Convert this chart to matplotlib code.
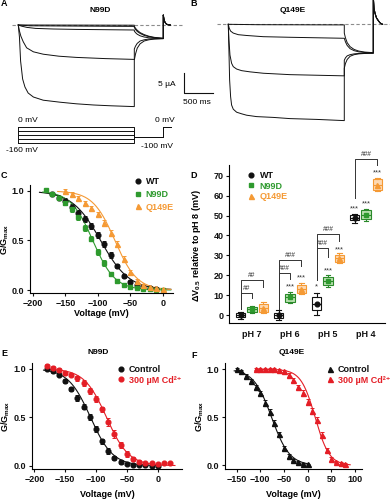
import numpy as np
import matplotlib
matplotlib.use("Agg")
import matplotlib.pyplot as plt
from matplotlib.lines import Line2D

plt.rcParams['font.family'] = ['Liberation Sans', 'DejaVu Sans']
plt.rcParams['mathtext.fontset'] = 'custom'
plt.rcParams['mathtext.rm'] = 'Liberation Sans'
plt.rcParams['mathtext.bf'] = 'Liberation Sans:bold'
plt.rcParams['mathtext.it'] = 'Liberation Sans:italic'
plt.rcParams['axes.linewidth'] = 0.8
plt.rcParams['xtick.major.width'] = 0.8
plt.rcParams['ytick.major.width'] = 0.8
plt.rcParams['xtick.major.size'] = 2.2
plt.rcParams['ytick.major.size'] = 2.2

# ---------------- data ----------------
# Panel A (N99D) current traces: time (ms), current (uA)
a_pulse_t = [[0, 20, 40, 75, 115, 170, 260, 430, 720, 1000, 1300, 1600, 2000],
             [0, 20, 45, 86, 144, 260, 430, 700, 1000, 1500, 2000],
             [0, 60, 150, 300, 600, 1000, 2000],
             [0, 200, 2000],
             [0, 2000]]
a_pulse_i = [[0, -3, -9, -13.5, -15.5, -17, -18, -18.8, -19.3, -19.7, -20, -20.2, -20.4],
             [0, -1.5, -2.8, -4.2, -5.7, -6.7, -7.3, -7.8, -8.1, -8.4, -8.6],
             [0, -0.3, -0.6, -0.85, -1.0, -1.1, -1.25],
             [0, -0.2, -0.35],
             [0, -0.05]]
tail_t = [2000, 2020, 2050, 2100, 2170, 2250, 2350, 2500]
a_tail_i = [[-8.8, -7.3, -5.8, -4.7, -4.0, -3.7, -3.5, -3.4],
            [-6.0, -5.3, -4.6, -4.0, -3.7, -3.5, -3.45, -3.4],
            [-1.5, -1.9, -2.3, -2.7, -3.0, -3.2, -3.3, -3.4],
            [-0.6, -1.1, -1.6, -2.1, -2.6, -2.9, -3.2, -3.35],
            [-0.3, -0.8, -1.3, -1.9, -2.4, -2.8, -3.1, -3.3]]
a_spike_t = [2500, 2510, 2525, 2545, 2570, 2620]
a_spike_i = [2.5, 1.5, 0.8, 0.35, 0.1, 0.0]

# Panel B (Q149E) current traces
b_pulse_t = [[0, 11, 23, 40, 57, 86, 144, 230, 316, 489, 776, 1064, 1524, 2000],
             [0, 11, 29, 57, 86, 144, 230, 374, 604, 1064, 2000],
             [0, 17, 40, 86, 173, 316, 604, 1064, 2000],
             [0, 500, 2000]]
b_pulse_i = [[0, -6.4, -13.9, -18.1, -20.2, -21.25, -22, -22.4, -22.75, -23.1, -23.3, -23.6, -23.8, -24.1],
             [0, -3.9, -7.7, -9.75, -10.6, -11.2, -11.6, -11.9, -12.25, -12.6, -12.9],
             [0, -1.0, -1.7, -2.2, -2.6, -2.8, -3.1, -3.25, -3.5],
             [0, -0.1, -0.15]]
b_tail_i = [[-11.0, -9.8, -8.8, -8.0, -7.6, -7.4, -7.3, -7.25],
            [-9.0, -8.4, -7.9, -7.6, -7.4, -7.3, -7.25, -7.2],
            [-3.5, -4.4, -5.3, -6.1, -6.6, -6.9, -7.05, -7.15],
            [-2.2, -3.4, -4.6, -5.6, -6.3, -6.7, -6.95, -7.1]]
b_spike_t = [2500, 2512, 2530, 2555, 2587, 2620, 2660]
b_spike_i = [7.0, 4.0, 2.75, 1.6, 0.9, 0.3, 0.0]

# voltage protocol
prot_steps = [0, -40, -80, -120, -160]   # mV
prot_tail_v = -100
prot_end_v = 0
prot_times = [0, 2000, 2500, 2630]       # ms
scale_i = 5      # uA
scale_t = 500    # ms

# Panel C: G/Gmax
c_wt_v = [-170, -160, -150, -140, -130, -120, -110, -100, -90, -80, -70, -60, -50, -40, -30, -20, -10]
c_wt_g = [0.97, 0.93, 0.90, 0.84, 0.78, 0.72, 0.65, 0.56, 0.46, 0.35, 0.24, 0.14, 0.08, 0.05, 0.03, 0.02, 0.01]
c_wt_e = [0.02, 0.02, 0.03, 0.03, 0.03, 0.03, 0.03, 0.03, 0.03, 0.03, 0.02, 0.02, 0.02, 0.01, 0.01, 0.01, 0.01]
c_n99d_v = [-180, -170, -160, -150, -140, -130, -120, -110, -100, -90, -80, -70, -60, -50, -40, -30, -20, -10, 0]
c_n99d_g = [1.01, 0.97, 0.93, 0.88, 0.82, 0.74, 0.63, 0.52, 0.38, 0.27, 0.16, 0.09, 0.05, 0.03, 0.02, 0.01, 0.01, 0.00, 0.00]
c_n99d_e = [0.01, 0.02, 0.02, 0.02, 0.03, 0.03, 0.03, 0.03, 0.03, 0.03, 0.02, 0.02, 0.01, 0.01, 0.01, 0.01, 0.01, 0.01, 0.01]
c_q149e_v = [-150, -140, -130, -120, -110, -100, -90, -80, -70, -60, -50, -40, -30, -20, -10, 0]
c_q149e_g = [1.00, 0.97, 0.93, 0.88, 0.83, 0.77, 0.68, 0.58, 0.46, 0.31, 0.18, 0.09, 0.05, 0.03, 0.02, 0.01]
c_q149e_e = [0.02, 0.02, 0.02, 0.02, 0.02, 0.02, 0.03, 0.03, 0.03, 0.03, 0.02, 0.02, 0.01, 0.01, 0.01, 0.01]
c_fit = {'WT': (-96, 22, -190, 12), 'N99D': (-108, 17, -185, 12), 'Q149E': (-74, 17, -162, 12)}

# Panel D: delta V0.5 box plots
ph_labels = ['pH 7', 'pH 6', 'pH 5', 'pH 4']
series_names = ['WT', 'N99D', 'Q149E']
d_mean = {'WT': [0.0, -0.2, 5.6, 49.0], 'N99D': [2.8, 9.0, 17.0, 50.2], 'Q149E': [3.4, 13.3, 28.5, 65.5]}
d_q1 = {'WT': [-1.0, -1.5, 2.5, 47.7], 'N99D': [1.3, 6.8, 15.1, 48.3], 'Q149E': [1.5, 11.2, 26.6, 63.0]}
d_q3 = {'WT': [0.8, 0.9, 9.0, 50.2], 'N99D': [4.2, 10.8, 19.0, 52.6], 'Q149E': [5.5, 15.0, 30.4, 68.2]}
d_lo = {'WT': [-2.2, -2.3, 0.2, 46.4], 'N99D': [1.0, 6.2, 14.2, 47.2], 'Q149E': [1.0, 10.5, 26.0, 62.2]}
d_hi = {'WT': [1.6, 2.5, 11.0, 51.0], 'N99D': [4.6, 11.6, 20.1, 53.4], 'Q149E': [6.5, 15.9, 31.0, 69.0]}
# significance stars: (group, series index, y, text)
d_stars = [(1, 1, 15.0, '***'), (1, 2, 19.5, '***'), (2, 0, 15.0, '*'), (2, 1, 23.0, '***'),
           (2, 2, 33.8, '***'), (3, 0, 54.4, '***'), (3, 1, 57.0, '***'), (3, 2, 72.4, '***')]
# brackets: (group, left series, right series, bar y, left end y, right end y, label)
d_brackets = [(0, 0, 1, 11.0, 2.8, 8.8, '##'), (0, 0, 2, 17.6, 2.8, 14.0, '##'),
              (1, 0, 1, 21.0, 3.0, 18.2, '###'), (1, 0, 2, 27.6, 3.0, 24.5, '###'),
              (2, 0, 1, 33.5, 17.5, 29.3, '###'), (2, 0, 2, 40.5, 17.5, 37.2, '###'),
              (3, 0, 2, 78.2, 58.6, 75.4, '###')]

# Panel E: N99D control vs Cd
e_ctl_v = [-180, -170, -160, -150, -140, -130, -120, -110, -100, -90, -80, -70, -60, -50, -40, -30, -20, -10, 0]
e_ctl_g = [1.00, 0.98, 0.94, 0.87, 0.79, 0.70, 0.61, 0.50, 0.38, 0.25, 0.15, 0.08, 0.04, 0.02, 0.01, 0.01, 0.01, 0.00, 0.00]
e_ctl_e = [0.01, 0.02, 0.02, 0.02, 0.02, 0.03, 0.03, 0.03, 0.03, 0.03, 0.03, 0.02, 0.02, 0.01, 0.01, 0.01, 0.01, 0.01, 0.01]
e_cd_v = [-180, -170, -160, -150, -140, -130, -120, -110, -100, -90, -80, -70, -60, -50, -40, -30, -20, -10, 0, 10, 20]
e_cd_g = [1.03, 1.01, 0.99, 0.96, 0.94, 0.90, 0.85, 0.77, 0.69, 0.58, 0.45, 0.33, 0.21, 0.12, 0.07, 0.04, 0.03, 0.03, 0.02, 0.03, 0.03]
e_cd_e = [0.02, 0.02, 0.02, 0.02, 0.02, 0.03, 0.03, 0.03, 0.03, 0.03, 0.04, 0.04, 0.03, 0.03, 0.02, 0.02, 0.01, 0.01, 0.01, 0.01, 0.01]
e_fit = {'Control': (-109, 18, -185, 0), 'Cd': (-83, 18, -180, 28)}

# Panel F: Q149E control vs Cd
f_ctl_v = [-150, -140, -130, -120, -110, -100, -90, -80, -70, -60, -50, -40, -30, -20, -10, 0]
f_ctl_g = [1.00, 0.98, 0.93, 0.88, 0.82, 0.75, 0.65, 0.56, 0.44, 0.33, 0.18, 0.10, 0.06, 0.04, 0.02, 0.01]
f_ctl_e = [0.01, 0.01, 0.02, 0.02, 0.02, 0.02, 0.03, 0.03, 0.03, 0.02, 0.02, 0.02, 0.01, 0.01, 0.01, 0.01]
f_cd_v = [-110, -100, -90, -80, -70, -60, -50, -40, -30, -20, -10, 0, 10, 20, 30, 40, 50, 60, 70, 80]
f_cd_g = [1.00, 1.00, 1.00, 1.00, 1.00, 0.99, 0.98, 0.94, 0.89, 0.82, 0.75, 0.66, 0.57, 0.47, 0.32, 0.16, 0.07, 0.04, 0.03, 0.02]
f_cd_e = [0.01, 0.01, 0.01, 0.01, 0.01, 0.01, 0.01, 0.02, 0.02, 0.02, 0.03, 0.03, 0.03, 0.03, 0.03, 0.02, 0.02, 0.01, 0.01, 0.01]
f_fit = {'Control': (-76, 19, -155, 4), 'Cd': (16, 15, -110, 90)}

# ---------------- style ----------------
BLACK = '#111111'
GREEN = '#2e9a2e'
ORANGE = '#f59a35'
RED = '#e41e26'
GREY = '#8c8c8c'
W, H = 390, 500
FS = 6.5

fig = plt.figure(figsize=(3.9, 5.0), dpi=100)


def px_axes(x0, y0, x1, y1):
    return fig.add_axes([x0 / W, 1 - y1 / H, (x1 - x0) / W, (y1 - y0) / H])


def ftext(x, y, s, **kw):
    kw.setdefault('ha', 'center')
    kw.setdefault('va', 'center')
    fig.text(x / W, 1 - y / H, s, **kw)


def boltz(v, vh, k):
    return 1.0 / (1.0 + np.exp((v - vh) / k))


# ---------------- Panel A ----------------
axA = px_axes(0, 0, 190, 125)
axA.set_xlim(-315, 2960)
axA.set_ylim(-25, 6.25)
axA.axis('off')
axA.plot([-110, 2840], [0, 0], color=GREY, lw=0.8, dashes=(3, 2))
for t, i, ti in zip(a_pulse_t, a_pulse_i, a_tail_i):
    tt = t + tail_t + a_spike_t
    ii = i + ti + a_spike_i
    axA.plot(tt, ii, color=BLACK, lw=0.7)
# scale bar
sb_t0 = 2862
sb_i0 = -11.9
axA.plot([sb_t0, sb_t0, sb_t0 + scale_t], [sb_i0, sb_i0 - scale_i, sb_i0 - scale_i],
         color=BLACK, lw=0.8, clip_on=False)
ftext(176, 84, f'{scale_i} µA', ha='right', fontsize=6)
ftext(183, 103, f'{scale_t} ms', ha='left', fontsize=6)

# protocol
axP = px_axes(0, 118, 190, 160)
axP.set_xlim(-315, 2960)
axP.set_ylim(-330, 90)
axP.axis('off')
for v in prot_steps:
    axP.plot([prot_times[0], prot_times[1], prot_times[1], prot_times[2], prot_times[2], prot_times[3]],
             [v, v, prot_tail_v, prot_tail_v, prot_end_v, prot_end_v], color=BLACK, lw=0.7)
axP.plot([prot_times[0], prot_times[0]], [max(prot_steps), min(prot_steps)], color=BLACK, lw=0.7)
ftext(18, 120, '0 mV', ha='left', fontsize=6)
ftext(6, 151, '-160 mV', ha='left', fontsize=6)
ftext(155, 120, '0 mV', ha='left', fontsize=6)
ftext(141, 146, '-100 mV', ha='left', fontsize=6)

# ---------------- Panel B ----------------
axB = px_axes(190, 0, 390, 125)
axB.set_xlim(-660, 2788)
axB.set_ylim(-25.2, 6.08)
axB.axis('off')
axB.plot([-195, 2788], [0, 0], color=GREY, lw=0.8, dashes=(3, 2))
for t, i, ti in zip(b_pulse_t, b_pulse_i, b_tail_i):
    tt = t + tail_t + b_spike_t
    ii = i + ti + b_spike_i
    axB.plot(tt, ii, color=BLACK, lw=0.7)

ftext(100, 11, 'N99D', fontsize=6, fontweight='bold')
ftext(293, 11, 'Q149E', fontsize=6, fontweight='bold')


def style_ax(ax):
    for s in ['top', 'right']:
        ax.spines[s].set_visible(False)
    ax.tick_params(labelsize=FS, pad=1.8, colors=BLACK)
    for lab in ax.get_xticklabels() + ax.get_yticklabels():
        lab.set_fontweight('bold')


def gg_label(ax, xc, yc):
    ax.set_ylabel(r'$\mathbf{G/G_{max}}$', fontsize=FS)
    ax.yaxis.set_label_coords(xc, yc)


# ---------------- Panel C ----------------
axC = px_axes(30, 185, 173, 293)
axC.set_xlim(-204.6, 15.4)
axC.set_ylim(-0.03, 1.06)
for name, v, g, e, col, mk, ms in [('WT', c_wt_v, c_wt_g, c_wt_e, BLACK, 'o', 3.4),
                                   ('N99D', c_n99d_v, c_n99d_g, c_n99d_e, GREEN, 's', 3.2),
                                   ('Q149E', c_q149e_v, c_q149e_g, c_q149e_e, ORANGE, '^', 3.6)]:
    vh, k, v0, v1 = c_fit[name]
    vv = np.linspace(v0, v1, 200)
    axC.plot(vv, boltz(vv, vh, k), color=col, lw=0.8)
    axC.errorbar(v, g, yerr=e, fmt=mk, color=col, ms=ms, elinewidth=0.7, capsize=1.2, capthick=0.7)
axC.set_xticks([-200, -150, -100, -50, 0])
axC.set_yticks([0.0, 0.5, 1.0])
axC.set_yticklabels(['0.0', '0.5', '1.0'])
style_ax(axC)
gg_label(axC, -0.13, 0.5)
axC.set_xlabel('Voltage (mV)', fontsize=FS, fontweight='bold')
axC.xaxis.set_label_coords(0.5, -0.15)
hC = [Line2D([], [], color=BLACK, marker='o', ls='none', ms=3.4),
      Line2D([], [], color=GREEN, marker='s', ls='none', ms=3.2),
      Line2D([], [], color=ORANGE, marker='^', ls='none', ms=3.6)]
legC = fig.legend(hC, series_names, loc='upper left', bbox_to_anchor=(134 / W, 1 - 177 / H),
                  frameon=False, fontsize=FS, handlelength=0.9, handletextpad=0.4,
                  labelspacing=0.42, borderpad=0, borderaxespad=0)
for txt, col in zip(legC.get_texts(), [BLACK, GREEN, ORANGE]):
    txt.set_color(col)
    txt.set_fontweight('bold')

# ---------------- Panel D ----------------
axD = px_axes(229, 165, 385, 323)
axD.set_xlim(-0.605, 3.5)
axD.set_ylim(-4, 75.4)
offsets = [-0.3, 0.0, 0.3]
box_styles = {'WT': (BLACK, 'white', 'o', 3.4),
              'N99D': ('#2a8a2a', '#b9e0b0', 's', 3.2),
              'Q149E': (ORANGE, '#fdd9b3', '^', 3.6)}
groups = np.arange(len(ph_labels))
for si, name in enumerate(series_names):
    ec, fc, mk, ms = box_styles[name]
    pos = groups + offsets[si]
    stats = [dict(med=d_mean[name][g], q1=d_q1[name][g], q3=d_q3[name][g],
                  whislo=d_lo[name][g], whishi=d_hi[name][g], fliers=[]) for g in groups]
    axD.bxp(stats, positions=pos, widths=0.24, patch_artist=True, showfliers=False,
            boxprops=dict(facecolor=fc, edgecolor=ec, linewidth=0.8),
            whiskerprops=dict(color=ec, linewidth=0.8),
            capprops=dict(color=ec, linewidth=0.8),
            medianprops=dict(color=ec, linewidth=0.8),
            capwidths=0.12, manage_ticks=False)
    mcol = {'WT': BLACK, 'N99D': GREEN, 'Q149E': ORANGE}[name]
    axD.plot(pos, d_mean[name], ls='none', marker=mk, color=mcol, ms=ms, zorder=5)
for g, s, y, txt in d_stars:
    axD.annotate(txt, xy=(g + offsets[s], y), xytext=(0, -1.5), textcoords='offset points',
                 ha='center', va='center', fontsize=5.5, color='#333333', annotation_clip=False)
for g, s1, s2, yb, yl, yr, lab in d_brackets:
    x1 = g + offsets[s1]
    x2 = g + offsets[s2]
    axD.plot([x1, x1, x2, x2], [yl, yb, yb, yr], color='#333333', lw=0.7, clip_on=False)
    axD.annotate(lab, xy=((x1 + x2) / 2, yb), xytext=(0, 0.8), textcoords='offset points',
                 ha='center', va='bottom', fontsize=4.8, color='#333333', annotation_clip=False)
axD.set_xticks(groups)
axD.set_xticklabels(ph_labels)
axD.set_yticks(np.arange(0, 71, 10))
style_ax(axD)
axD.tick_params(axis='x', length=0, pad=5)
axD.set_ylabel(r'$\mathbf{\Delta V_{0.5}}$ relative to pH 8 (mV)', fontsize=FS, fontweight='bold')
axD.yaxis.set_label_coords(-0.165, 0.49)
hD = [Line2D([], [], color=BLACK, marker='o', ls='none', ms=3.4),
      Line2D([], [], color=GREEN, marker='s', ls='none', ms=3.2),
      Line2D([], [], color=ORANGE, marker='^', ls='none', ms=3.6)]
legD = fig.legend(hD, series_names, loc='upper left', bbox_to_anchor=(247 / W, 1 - 171 / H),
                  frameon=False, fontsize=FS, handlelength=0.9, handletextpad=0.5,
                  labelspacing=0.18, borderpad=0, borderaxespad=0)
for txt, col in zip(legD.get_texts(), [BLACK, GREEN, ORANGE]):
    txt.set_color(col)
    txt.set_fontweight('bold')

# ---------------- Panel E ----------------
axE = px_axes(32, 363, 182, 469)
axE.set_xlim(-203.7, 39.4)
axE.set_ylim(-0.034, 1.059)
for key, v, g, e, col in [('Control', e_ctl_v, e_ctl_g, e_ctl_e, BLACK), ('Cd', e_cd_v, e_cd_g, e_cd_e, RED)]:
    vh, k, v0, v1 = e_fit[key]
    vv = np.linspace(v0, v1, 200)
    axE.plot(vv, boltz(vv, vh, k), color=col, lw=0.8)
    axE.errorbar(v, g, yerr=e, fmt='o', color=col, ms=3.4, elinewidth=0.7, capsize=1.2, capthick=0.7)
axE.set_xticks([-200, -150, -100, -50, 0])
axE.set_yticks([0.0, 0.5, 1.0])
axE.set_yticklabels(['0.0', '0.5', '1.0'])
style_ax(axE)
gg_label(axE, -0.13, 0.5)
axE.set_xlabel('Voltage (mV)', fontsize=FS, fontweight='bold')
axE.xaxis.set_label_coords(0.5, -0.2)
hE = [Line2D([], [], color=BLACK, marker='o', ls='none', ms=3.4),
      Line2D([], [], color=RED, marker='o', ls='none', ms=3.4)]
legE = fig.legend(hE, ['Control', '300 µM Cd²⁺'], loc='upper left', bbox_to_anchor=(117 / W, 1 - 365 / H),
                  frameon=False, fontsize=FS, handlelength=0.9, handletextpad=0.4,
                  labelspacing=0.18, borderpad=0, borderaxespad=0)
for txt, col in zip(legE.get_texts(), [BLACK, RED]):
    txt.set_color(col)
    txt.set_fontweight('bold')
ftext(98, 353, 'N99D', fontsize=6, fontweight='bold')

# ---------------- Panel F ----------------
axF = px_axes(225, 363, 362, 469)
axF.set_xlim(-174.5, 115)
axF.set_ylim(-0.037, 1.066)
for key, v, g, e, col in [('Control', f_ctl_v, f_ctl_g, f_ctl_e, BLACK), ('Cd', f_cd_v, f_cd_g, f_cd_e, RED)]:
    vh, k, v0, v1 = f_fit[key]
    vv = np.linspace(v0, v1, 200)
    axF.plot(vv, boltz(vv, vh, k), color=col, lw=0.8)
    axF.errorbar(v, g, yerr=e, fmt='^', color=col, ms=3.6, elinewidth=0.7, capsize=1.2, capthick=0.7)
axF.set_xticks([-150, -100, -50, 0, 50, 100])
axF.set_yticks([0.0, 0.5, 1.0])
axF.set_yticklabels(['0.0', '0.5', '1.0'])
style_ax(axF)
gg_label(axF, -0.14, 0.5)
axF.set_xlabel('Voltage (mV)', fontsize=FS, fontweight='bold')
axF.xaxis.set_label_coords(0.5, -0.2)
hF = [Line2D([], [], color=BLACK, marker='^', ls='none', ms=3.6),
      Line2D([], [], color=RED, marker='^', ls='none', ms=3.6)]
legF = fig.legend(hF, ['Control', '300 µM Cd²⁺'], loc='upper left', bbox_to_anchor=(326 / W, 1 - 365 / H),
                  frameon=False, fontsize=FS, handlelength=0.9, handletextpad=0.4,
                  labelspacing=0.18, borderpad=0, borderaxespad=0)
for txt, col in zip(legF.get_texts(), [BLACK, RED]):
    txt.set_color(col)
    txt.set_fontweight('bold')
ftext(292, 353, 'Q149E', fontsize=6, fontweight='bold')

# panel letters
for lab, x, y in [('A', 4, 4), ('B', 194, 4), ('C', 4, 175), ('D', 194, 175), ('E', 4, 353), ('F', 194, 355)]:
    ftext(x, y, lab, fontsize=6.5, fontweight='bold')

fig.savefig('out.png', dpi=100)
